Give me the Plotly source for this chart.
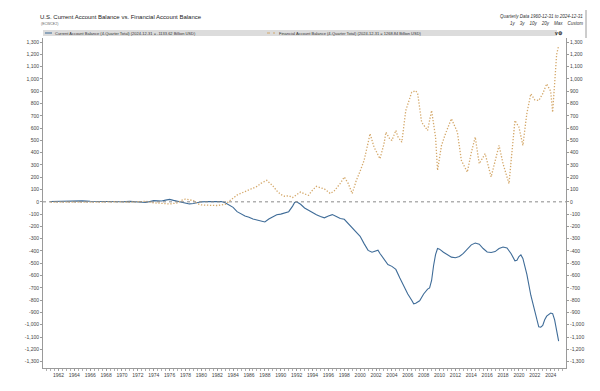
import plotly.graph_objects as go

# ---- data (Billion USD, 4-quarter totals) ----
ca_dates = ["1960-12-31","1961-12-31","1962-12-31","1963-12-31","1964-12-31","1965-12-31","1966-12-31",
            "1967-12-31","1968-12-31","1969-12-31","1970-12-31","1971-12-31","1972-12-31","1973-12-31",
            "1974-12-31","1975-06-30","1975-12-31","1976-06-30","1976-12-31","1977-06-30","1977-12-31",
            "1978-06-30","1978-12-31","1979-06-30","1979-12-31","1980-12-31","1981-12-31","1982-06-30",
            "1982-12-31","1983-06-30","1983-12-31","1984-06-30","1984-12-31","1985-06-30","1985-12-31",
            "1986-06-30","1986-12-31","1987-06-30","1987-12-31","1988-06-30","1988-12-31","1989-06-30",
            "1989-12-31","1990-06-30","1990-12-31","1991-06-30","1991-09-30","1991-12-31","1992-06-30",
            "1992-12-31","1993-06-30","1993-12-31","1994-06-30","1994-12-31","1995-06-30","1995-12-31",
            "1996-06-30","1996-12-31","1997-06-30","1997-12-31","1998-06-30","1998-12-31","1999-06-30",
            "1999-12-31","2000-06-30","2000-12-31","2001-06-30","2001-12-31","2002-03-31","2002-06-30",
            "2002-12-31","2003-06-30","2003-12-31","2004-06-30","2004-12-31","2005-06-30","2005-12-31",
            "2006-06-30","2006-09-30","2006-12-31","2007-06-30","2007-12-31","2008-06-30","2008-09-30",
            "2008-12-31","2009-03-31","2009-06-30","2009-09-30","2009-12-31","2010-06-30","2010-12-31",
            "2011-06-30","2011-12-31","2012-06-30","2012-12-31","2013-06-30","2013-12-31","2014-06-30",
            "2014-12-31","2015-06-30","2015-12-31","2016-06-30","2016-12-31","2017-06-30","2017-12-31",
            "2018-06-30","2018-12-31","2019-06-30","2019-09-30","2019-12-31","2020-03-31","2020-06-30",
            "2020-12-31","2021-06-30","2021-12-31","2022-03-31","2022-06-30","2022-09-30","2022-12-31",
            "2023-03-31","2023-06-30","2023-12-31","2024-03-31","2024-06-30","2024-09-30","2024-12-31"]
ca_values = [3, 5, 4, 6, 8, 5, 3,
             3, 1, 1, 4, -1, -5, 10,
             7, 14, 20, 12, 5, -8, -14,
             -17, -13, -5, 0, 3, 6, 2,
             -8, -25, -45, -80, -100, -115, -125,
             -140, -148, -158, -164, -140, -122, -105,
             -100, -90, -80, -35, -5, 0, -20,
             -50, -70, -85, -105, -120, -130, -115,
             -104, -120, -135, -142, -175, -210, -245,
             -280, -340, -395, -410, -400, -394, -420,
             -470, -510, -525, -550, -620, -690, -750,
             -800, -830, -825, -805, -750, -710, -700,
             -640, -520, -430, -380, -385, -410, -430,
             -450, -455, -445, -420, -385, -350, -335,
             -345, -380, -408, -412, -405, -380, -368,
             -375, -420, -480, -475, -445, -432, -460,
             -590, -760, -880, -960, -1017, -1020, -1005,
             -960, -930, -905, -910, -960, -1050, -1133.62]

fa_dates = ["1960-12-31","1962-12-31","1964-12-31","1966-12-31","1968-12-31","1970-12-31","1972-12-31",
            "1973-12-31","1974-12-31","1975-12-31","1976-12-31","1977-06-30","1977-12-31","1978-06-30",
            "1978-12-31","1979-06-30","1979-12-31","1980-12-31","1981-12-31","1982-12-31","1983-06-30",
            "1983-12-31","1984-06-30","1984-12-31","1985-06-30","1985-12-31","1986-06-30","1986-12-31",
            "1987-06-30","1987-12-31","1988-03-31","1988-06-30","1988-12-31","1989-06-30","1989-12-31",
            "1990-06-30","1990-12-31","1991-06-30","1991-12-31","1992-06-30","1992-12-31","1993-06-30",
            "1993-12-31","1994-06-30","1994-12-31","1995-06-30","1995-12-31","1996-03-31","1996-09-30",
            "1997-06-30","1997-12-31","1998-06-30","1998-12-31","1999-06-30","1999-12-31","2000-06-30",
            "2000-12-31","2001-03-31","2001-09-30","2002-06-30","2002-12-31","2003-03-31","2003-09-30",
            "2003-12-31","2004-06-30","2004-09-30","2005-03-31","2005-09-30","2006-06-30","2006-12-31",
            "2007-03-31","2007-09-30","2008-06-30","2008-12-31","2009-06-30","2009-09-30","2010-03-31",
            "2010-09-30","2011-06-30","2011-12-31","2012-03-31","2012-09-30","2013-06-30","2013-12-31",
            "2014-06-30","2014-12-31","2015-09-30","2016-06-30","2016-12-31","2017-06-30","2017-12-31",
            "2018-09-30","2019-06-30","2019-12-31","2020-06-30","2020-12-31","2021-06-30","2021-12-31",
            "2022-06-30","2022-12-31","2023-06-30","2023-12-31","2024-03-31","2024-06-30","2024-09-30",
            "2024-12-31"]
fa_values = [-3, -4, -6, -3, 1, -2, 4,
             -8, -12, -18, -8, 12, 22, 18,
             10, -15, -25, -28, -30, -20, 5,
             25, 55, 70, 85, 100, 115, 125,
             150, 165, 175, 160, 130, 90, 60,
             45, 50, 35, 55, 80, 65, 53,
             95, 126, 115, 105, 80, 67, 90,
             150, 202, 150, 67, 170, 250, 337,
             480, 554, 446, 351, 470, 567, 510,
             500, 581, 530, 486, 743, 892, 905,
             880, 648, 581, 743, 527, 256, 459,
             554, 676, 600, 567, 337, 242, 400,
             527, 310, 392, 202, 340, 459, 310,
             148, 662, 608, 459, 720, 879, 830,
             824, 880, 960, 900, 729, 950, 1200,
             1268.84]

y_ticks = list(range(-1300, 1301, 100))
y_labels = [f"{v:,}" for v in y_ticks]

CA_COLOR = "#3f6c98"
FA_COLOR = "#d4a86a"
FONT = "Liberation Sans, Arial, sans-serif"

# page has an 8px body margin: figure sized to fit the remaining window
W, H = 592, 383
ML, MR, MT, MB = 35, 34, 30, 23
PW = W - ML - MR
PH = H - MT - MB
PLOT_LEFT = 8 + ML
PLOT_BOTTOM = 8 + H - MB


def px(xp):
    return (xp - PLOT_LEFT) / PW


def py(yp):
    return (PLOT_BOTTOM - yp) / PH


fig = go.Figure()
fig.add_trace(go.Scatter(x=ca_dates, y=ca_values, mode="lines",
                         line=dict(color=CA_COLOR, width=1.1), name="Current Account Balance"))
fig.add_trace(go.Scatter(x=fa_dates, y=fa_values, mode="lines", yaxis="y2",
                         line=dict(color=FA_COLOR, width=1.3, dash="1.3px,1.7px"),
                         name="Financial Account Balance"))

yr = [-1352, 1333]
axis_common = dict(range=yr, tickmode="array", tickvals=y_ticks, ticktext=y_labels,
                   tickfont=dict(size=5, color="#444", family=FONT), showgrid=False, zeroline=False,
                   showline=True, linecolor="#9a9a9a", linewidth=1, ticks="outside", ticklen=2,
                   tickcolor="#9a9a9a")

fig.update_layout(
    width=W, height=H,
    margin=dict(l=ML, r=MR, t=MT, b=MB, pad=0),
    plot_bgcolor="white", paper_bgcolor="white",
    showlegend=False,
    font=dict(family=FONT),
    xaxis=dict(type="date", range=["1960-01-20", "2025-12-05"], tick0="1962-01-01", dtick="M24",
               tickformat="%Y", tickfont=dict(size=5, color="#444", family=FONT), showgrid=False,
               showline=True, linecolor="#9a9a9a", ticks="outside", ticklen=2, tickcolor="#9a9a9a",
               minor=dict(dtick="M6", ticks="outside", ticklen=1.5, tickcolor="#b0b0b0")),
    yaxis=dict(side="left", **axis_common),
    yaxis2=dict(side="right", overlaying="y", **axis_common),
    shapes=[
        dict(type="line", xref="paper", x0=0, x1=1, yref="y", y0=0, y1=0,
             line=dict(color="#8a8a8a", width=1, dash="dot")),
        dict(type="rect", xref="paper", yref="paper", x0=px(43), x1=px(557), y0=py(36), y1=py(30),
             fillcolor="#dcdcdc", line=dict(width=0)),
        dict(type="line", xref="paper", yref="paper", x0=px(45), x1=px(52), y0=py(33), y1=py(33),
             line=dict(color=CA_COLOR, width=1)),
        dict(type="line", xref="paper", yref="paper", x0=px(267), x1=px(275), y0=py(33), y1=py(33),
             line=dict(color=FA_COLOR, width=1, dash="dot")),
        dict(type="line", xref="paper", yref="paper", x0=px(586), x1=px(586), y0=py(38), y1=py(10),
             line=dict(color="#9a9a9a", width=1)),
    ],
    annotations=[
        dict(text="U.S. Current Account Balance vs. Financial Account Balance", xref="paper", yref="paper",
             x=px(38), y=py(17), xanchor="left", yanchor="middle", showarrow=False,
             font=dict(size=6, color="#222")),
        dict(text="(ECWCE2)", xref="paper", yref="paper", x=px(39), y=py(24), xanchor="left",
             yanchor="middle", showarrow=False, font=dict(size=3.5, color="#666")),
        dict(text="<i>Quarterly Data 1960-12-31 to 2024-12-31</i>", xref="paper", yref="paper",
             x=px(585), y=py(16), xanchor="right", yanchor="middle", showarrow=False,
             font=dict(size=4.5, color="#333")),
        dict(text="<i>1y    3y    10y    20y    Max    Custom</i>", xref="paper", yref="paper",
             x=px(585), y=py(23), xanchor="right", yanchor="middle", showarrow=False,
             font=dict(size=4.5, color="#333")),
        dict(text="Current Account Balance (4-Quarter Total) (2024-12-31 = -1133.62 Billion USD)",
             xref="paper", yref="paper", x=px(53), y=py(33), xanchor="left", yanchor="middle",
             showarrow=False, font=dict(size=4, color="#333")),
        dict(text="Financial Account Balance (4-Quarter Total) (2024-12-31 = 1268.84 Billion USD)",
             xref="paper", yref="paper", x=px(277), y=py(33), xanchor="left", yanchor="middle",
             showarrow=False, font=dict(size=4, color="#333")),
        dict(text="<b>v⚙</b>", xref="paper", yref="paper", x=px(565), y=py(33), xanchor="right",
             yanchor="middle", showarrow=False, font=dict(size=5, color="#222")),
    ],
)

fig.write_html("out.html")
